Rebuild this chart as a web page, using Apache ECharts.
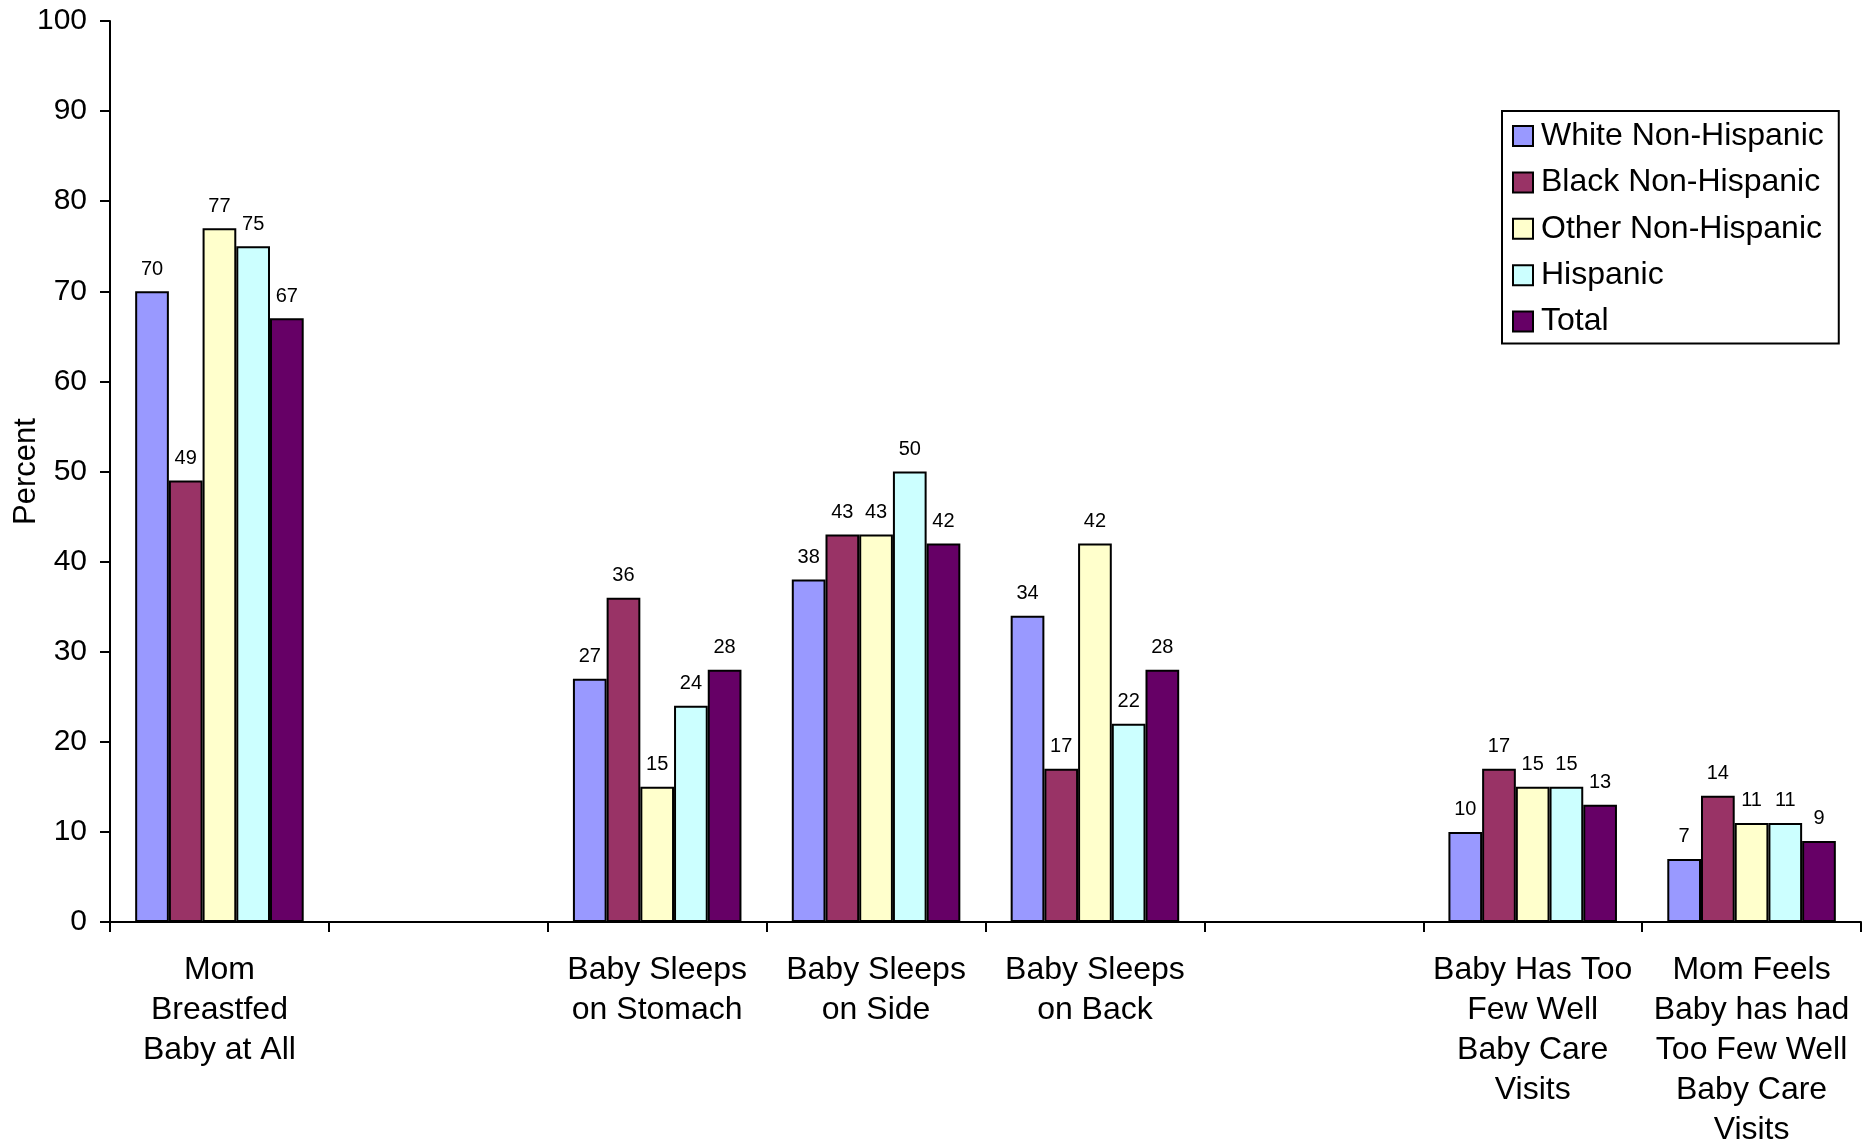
<!DOCTYPE html>
<html>
<head>
<meta charset="utf-8">
<script src="https://cdn.jsdelivr.net/npm/echarts@6/dist/echarts.min.js"></script>
<style>
html,body{margin:0;padding:0;background:#fff;}
#chart{width:1870px;height:1144px;}
</style>
</head>
<body>
<div id="chart"></div>
<script>
const categories = [
  'Mom\nBreastfed\nBaby at All',
  '',
  'Baby Sleeps\non Stomach',
  'Baby Sleeps\non Side',
  'Baby Sleeps\non Back',
  '',
  'Baby Has Too\nFew Well\nBaby Care\nVisits',
  'Mom Feels\nBaby has had\nToo Few Well\nBaby Care\nVisits'
];
const seriesNames = ['White Non-Hispanic', 'Black Non-Hispanic', 'Other Non-Hispanic', 'Hispanic', 'Total'];
const whiteNH = [70, null, 27, 38, 34, null, 10, 7];
const blackNH = [49, null, 36, 43, 17, null, 17, 14];
const otherNH = [77, null, 15, 43, 42, null, 15, 11];
const hispanic = [75, null, 24, 50, 22, null, 15, 11];
const total = [67, null, 28, 42, 28, null, 13, 9];
const colors = ['#9999FF', '#993366', '#FFFFCC', '#CCFFFF', '#660066'];
const yTicks = { min: 0, max: 100, interval: 10 };

const FONT = '"Liberation Sans", Arial, sans-serif';
const dataSets = [whiteNH, blackNH, otherNH, hispanic, total];

const chart = echarts.init(document.getElementById('chart'), null, { renderer: 'canvas' });
chart.setOption({
  animation: false,
  backgroundColor: '#ffffff',
  textStyle: { fontFamily: FONT, color: '#000' },
  grid: { left: 110, right: 9, top: 21, bottom: 222, containLabel: false, outerBoundsMode: 'none' },
  legend: {
    orient: 'vertical',
    left: 1502,
    top: 111,
    padding: [9, 15, 6, 10],
    borderColor: '#000',
    borderWidth: 2,
    backgroundColor: '#fff',
    itemWidth: 20,
    itemHeight: 20,
    itemGap: 14.4,
    icon: 'rect',
    itemStyle: { borderColor: '#000', borderWidth: 2 },
    textStyle: { fontFamily: FONT, fontSize: 32, color: '#000', lineHeight: 30, padding: [0, 0, 0, 3] },
    data: seriesNames
  },
  xAxis: {
    type: 'category',
    data: categories,
    axisLine: { lineStyle: { color: '#000', width: 2 } },
    axisTick: { show: true, alignWithLabel: false, length: 10, lineStyle: { color: '#000', width: 2 } },
    axisLabel: { interval: 0, color: '#000', fontFamily: FONT, fontSize: 32, lineHeight: 40, margin: 28, align: 'center' },
    splitLine: { show: false }
  },
  yAxis: {
    type: 'value',
    min: yTicks.min,
    max: yTicks.max,
    interval: yTicks.interval,
    name: 'Percent',
    nameLocation: 'middle',
    nameGap: 68,
    nameRotate: 90,
    nameMoveOverlap: false,
    nameTextStyle: { fontFamily: FONT, fontSize: 31, color: '#000' },
    axisLine: { show: true, lineStyle: { color: '#000', width: 2 } },
    axisTick: { show: true, length: 10, lineStyle: { color: '#000', width: 2 } },
    axisLabel: { color: '#000', fontFamily: FONT, fontSize: 30, margin: 23 },
    splitLine: { show: false }
  },
  series: seriesNames.map((name, i) => ({
    name: name,
    type: 'bar',
    data: dataSets[i],
    barGap: '0%',
    barCategoryGap: '23%',
    itemStyle: { color: colors[i], borderColor: '#000', borderWidth: 2 },
    label: { show: true, position: 'top', distance: 12, fontFamily: FONT, fontSize: 20, color: '#000' }
  }))
});
</script>
</body>
</html>
